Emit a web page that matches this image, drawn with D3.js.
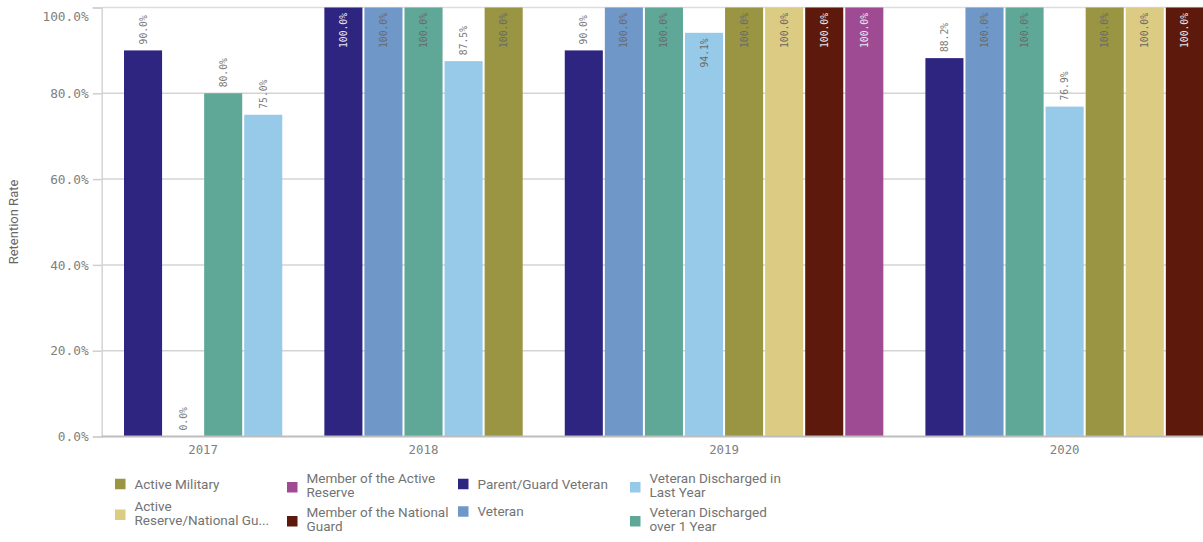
<!DOCTYPE html>
<html>
<head>
<meta charset="utf-8">
<script src="https://cdn.jsdelivr.net/npm/d3@7"></script>
<style>
  html, body { margin: 0; padding: 0; background: #ffffff; }
  svg { display: block; }
</style>
</head>
<body>
<svg id="chart" width="1203" height="542"></svg>
<script>
// ---------------- DATA ----------------
const years = ["2017", "2018", "2019", "2020"];

const seriesNames = [
  "Parent/Guard Veteran",
  "Veteran",
  "Veteran Discharged over 1 Year",
  "Veteran Discharged in Last Year",
  "Active Military",
  "Active Reserve/National Guard",
  "Member of the National Guard",
  "Member of the Active Reserve"
];

// values per series, one per year (null = no bar in that year)
const parentGuardVeteran     = [90.0, 100.0, 90.0, 88.2];
const veteran                = [0.0, 100.0, 100.0, 100.0];
const dischargedOver1Year    = [80.0, 100.0, 100.0, 100.0];
const dischargedLastYear     = [75.0, 87.5, 94.1, 76.9];
const activeMilitary         = [null, 100.0, 100.0, 100.0];
const activeReserveNG        = [null, null, 100.0, 100.0];
const memberNationalGuard    = [null, null, 100.0, 100.0];
const memberActiveReserve    = [null, null, 100.0, null];

const seriesValues = [
  parentGuardVeteran, veteran, dischargedOver1Year, dischargedLastYear,
  activeMilitary, activeReserveNG, memberNationalGuard, memberActiveReserve
];

const seriesColors = [
  "#2e2581", "#6f98c9", "#5fa898", "#97cae9",
  "#999542", "#dccb82", "#5c190c", "#9e4b94"
];

// legend entries (alphabetical, column-major) with displayed text lines
const legendSeries = [
  "Active Military",
  "Active Reserve/National Guard",
  "Member of the Active Reserve",
  "Member of the National Guard",
  "Parent/Guard Veteran",
  "Veteran",
  "Veteran Discharged in Last Year",
  "Veteran Discharged over 1 Year"
];
const legendLines = [
  ["Active Military"],
  ["Active", "Reserve/National Gu..."],
  ["Member of the Active", "Reserve"],
  ["Member of the National", "Guard"],
  ["Parent/Guard Veteran"],
  ["Veteran"],
  ["Veteran Discharged in", "Last Year"],
  ["Veteran Discharged", "over 1 Year"]
];

const yTicks = [0, 20, 40, 60, 80, 100];
const yTitle = "Retention Rate";

// ---------------- LAYOUT ----------------
const svg = d3.select("#chart");
const W = 1203;
const plotLeft = 101.7, plotTop = 7.5, plotBottom = 436.5;
const firstBarX = 124, step = 40.07;

const monoFont = "'DejaVu Sans Mono', monospace";
const sansFont = "Roboto, 'Noto Sans', sans-serif";

// Build flat slots: bars per year followed by one empty gap slot
const bars = [];
const slotKeys = [];
years.forEach((yr, yi) => {
  seriesNames.forEach((s, si) => {
    const v = seriesValues[si][yi];
    if (v !== null && v !== undefined) {
      const key = yr + "|" + s;
      slotKeys.push(key);
      bars.push({ key, year: yr, series: s, si, value: v });
    }
  });
  slotKeys.push("gap|" + yr);
});

const x = d3.scaleBand()
  .domain(slotKeys)
  .range([firstBarX, firstBarX + step * (slotKeys.length - 0.05)])
  .paddingInner(0.05)
  .paddingOuter(0);

const y = d3.scaleLinear().domain([0, 100]).range([plotBottom, plotTop]);

// ---------------- GRID ----------------
const grid = svg.append("g");
grid.selectAll("line.grid")
  .data(yTicks.filter(t => t > 0))
  .join("line")
  .attr("x1", plotLeft).attr("x2", W)
  .attr("y1", d => y(d)).attr("y2", d => y(d))
  .attr("stroke", d => d === 100 ? "#dddddd" : "#d4d4d4")
  .attr("stroke-width", d => d === 100 ? 1.5 : 1.5);

// ---------------- Y AXIS ----------------
const yAxis = d3.axisLeft(y)
  .tickValues(yTicks)
  .tickFormat(d => d3.format(".1f")(d) + "%")
  .tickSize(9)
  .tickPadding(4);
const gy = svg.append("g").attr("transform", `translate(${plotLeft},0)`).call(yAxis);
gy.select(".domain").attr("stroke", "#d4d4d4").attr("stroke-width", 1.5);
gy.selectAll(".tick line").attr("stroke", "#cfcfcf").attr("stroke-width", 1.5);
gy.selectAll(".tick text")
  .attr("font-family", monoFont)
  .attr("font-size", 12.8)
  .attr("fill", "#808080");
// keep the top label inside the frame
gy.selectAll(".tick").filter(d => d === 100).select("text").attr("dy", "0.32em").attr("y", 9);

svg.append("text")
  .attr("transform", `translate(18,${(plotTop + plotBottom) / 2}) rotate(-90)`)
  .attr("text-anchor", "middle")
  .attr("font-family", sansFont)
  .attr("font-size", 13)
  .attr("fill", "#666666")
  .text(yTitle);

// ---------------- BARS ----------------
const gBars = svg.append("g");
gBars.selectAll("rect")
  .data(bars)
  .join("rect")
  .attr("x", d => x(d.key))
  .attr("width", x.bandwidth())
  .attr("y", d => y(d.value))
  .attr("height", d => y(0) - y(d.value))
  .attr("fill", d => seriesColors[d.si]);

// ---------------- X AXIS ----------------
svg.append("line")
  .attr("x1", plotLeft).attr("x2", W)
  .attr("y1", plotBottom).attr("y2", plotBottom)
  .attr("stroke", "#bdbdbd").attr("stroke-width", 2);

const groupCenters = years.map(yr => {
  const gb = bars.filter(b => b.year === yr);
  const first = x(gb[0].key), last = x(gb[gb.length - 1].key) + x.bandwidth();
  return { year: yr, cx: (first + last) / 2 };
});
svg.append("g").selectAll("text")
  .data(groupCenters)
  .join("text")
  .attr("x", d => d.cx)
  .attr("y", 454)
  .attr("text-anchor", "middle")
  .attr("font-family", monoFont)
  .attr("font-size", 12.4)
  .attr("fill", "#808080")
  .text(d => d.year);

// ---------------- BAR LABELS ----------------
const darkSeries = new Set([0, 6, 7]);
const gLabels = svg.append("g");
bars.forEach(b => {
  const cx = x(b.key) + x.bandwidth() / 2;
  const top = y(b.value);
  const txt = d3.format(".1f")(b.value) + "%";
  const t = gLabels.append("text")
    .attr("font-family", monoFont)
    .attr("font-size", 9.7)
    .attr("dominant-baseline", "central")
    .text(txt);
  const len = t.node().getComputedTextLength();
  const outside = (top - plotTop) >= len + 8;
  if (outside) {
    t.attr("transform", `translate(${cx},${top - 6}) rotate(-90)`)
      .attr("text-anchor", "start")
      .attr("fill", "#7a7a7a");
  } else {
    t.attr("transform", `translate(${cx},${top + 5.5}) rotate(-90)`)
      .attr("text-anchor", "end")
      .attr("fill", darkSeries.has(b.si) ? "#e8e8ee" : "#6a6a6a");
  }
});

// ---------------- LEGEND ----------------
const colX = [115, 287, 458, 630];
const legendTop = 470, h1 = 27.5, h2 = 34;
const legend = svg.append("g");
const perCol = 2;
const colOffsets = {};
legendSeries.forEach((name, i) => {
  const col = Math.floor(i / perCol);
  const lines = legendLines[i];
  const h = lines.length === 1 ? h1 : h2;
  const topY = legendTop + (colOffsets[col] || 0);
  colOffsets[col] = (colOffsets[col] || 0) + h;
  const cy = topY + h / 2;
  const color = seriesColors[seriesNames.indexOf(name)];
  legend.append("rect")
    .attr("x", colX[col]).attr("y", cy - 5)
    .attr("width", 10.5).attr("height", 10.5)
    .attr("fill", color);
  const t = legend.append("text")
    .attr("font-family", sansFont)
    .attr("font-size", 13.5)
    .attr("fill", "#737373");
  const firstBase = lines.length === 1 ? cy + 4.8 : cy - 3.6;
  lines.forEach((ln, li) => {
    t.append("tspan")
      .attr("x", colX[col] + 19.5)
      .attr("y", firstBase + li * 13.6)
      .text(ln);
  });
});
</script>
</body>
</html>
